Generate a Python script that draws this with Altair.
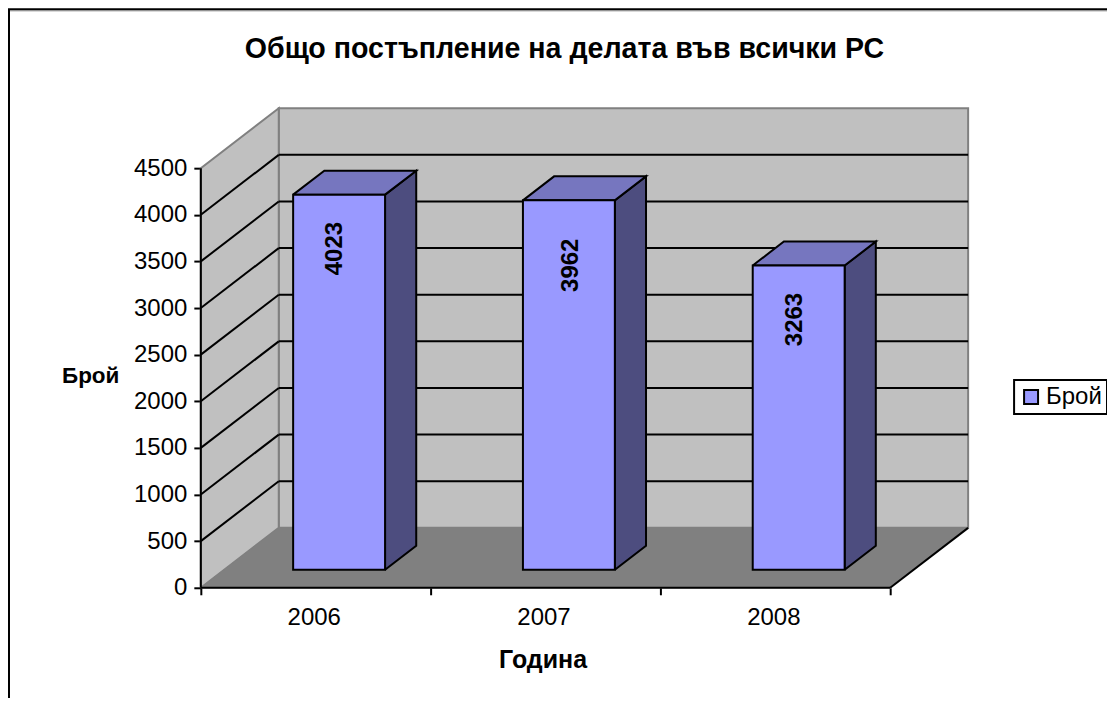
import altair as alt
import pandas as pd

years = ["2006", "2007", "2008"]
counts = [4023, 3962, 3263]
label_drops = [54, 65, 54]
label_shifts = [-4, 2, -4]
ticks = [0, 500, 1000, 1500, 2000, 2500, 3000, 3500, 4000, 4500]
series = "Брой"
title = "Общо постъпление на делата във всички РС"
x_title = "Година"
y_title = "Брой"

FONT = "Liberation Sans"
PX_X = 230.0
PX_Y = 420.0 / 4500.0
DEPTH_X = 78 / PX_X
DEPTH_Y = 60 / PX_Y
YMAX = 4500
NCAT = len(years)


def pt(c, v, z=0.0):
    return c + z * DEPTH_X, v + z * DEPTH_Y


def polygon(name, corners):
    rows = []
    for i, (c, v, z) in enumerate(corners + corners[:1]):
        x, y = pt(c, v, z)
        rows.append({"shape": name, "i": i, "x": x, "y": y})
    return pd.DataFrame(rows)


xs = alt.Scale(domain=[0, NCAT + DEPTH_X], range=[0, 768], nice=False, zero=False)
ys = alt.Scale(domain=[0, YMAX + DEPTH_Y], range=[480, 0], nice=False, zero=False)

year_expr = "{" + ",".join(f"'{i + 0.5}':'{y}'" for i, y in enumerate(years)) + "}[''+datum.value]||''"
x_axis = alt.Axis(
    values=[k / 2 for k in range(0, 2 * NCAT + 1)],
    labelExpr=year_expr, domain=False, grid=False, tickColor="#000000", tickWidth=2, tickSize=7,
    tickOpacity={"expr": "datum.value % 1 == 0 ? 1 : 0"},
    labelFont=FONT, labelFontSize=24, labelColor="#000000", labelPadding=11, labelOverlap=False,
    labelOffset=-2,
    labelFlush=False, titleFont=FONT, titleFontSize=25, titleFontWeight="bold", titleColor="#000000",
    titleX=342, titleY=60,
)
y_axis = alt.Axis(
    values=ticks, format="d", domain=False, grid=False, tickColor="#000000", tickWidth=2, tickSize=7,
    labelFont=FONT, labelFontSize=24, labelColor="#000000", labelPadding=7,
    titleFont=FONT, titleFontSize=22.5, titleFontWeight="bold", titleColor="#000000",
    titleAngle=0, titleX=-82, titleY=268, titleAlign="right", titleBaseline="middle",
)


def X(field="x:Q"):
    return alt.X(field, scale=xs, title=x_title, axis=x_axis)


def Y(field="y:Q"):
    return alt.Y(field, scale=ys, title=y_title, axis=y_axis)


def poly_layer(name, corners, fill, stroke, sw):
    return alt.Chart(polygon(name, corners)).mark_line(
        fill=fill, stroke=stroke, strokeWidth=sw, strokeJoin="miter", clip=False
    ).encode(x=X(), y=Y(), order="i:Q")


def seg_layer(segs, color, sw):
    rows = []
    for k, (a, b) in enumerate(segs):
        for i, p in enumerate((a, b)):
            x, y = pt(*p)
            rows.append({"k": k, "i": i, "x": x, "y": y})
    return alt.Chart(pd.DataFrame(rows)).mark_line(
        color=color, strokeWidth=sw
    ).encode(x=X(), y=Y(), detail="k:N", order="i:Q")


GREY = "#808080"
layers = [
    poly_layer("back", [(0, 0, 1), (NCAT, 0, 1), (NCAT, YMAX, 1), (0, YMAX, 1)], "#C0C0C0", GREY, 2),
    poly_layer("left", [(0, 0, 0), (0, 0, 1), (0, YMAX, 1), (0, YMAX, 0)], "#C0C0C0", GREY, 2),
    poly_layer("floor", [(0, 0, 0), (NCAT, 0, 0), (NCAT, 0, 1), (0, 0, 1)], GREY, GREY, 1),
]
inner = [t for t in ticks if 0 < t < YMAX]
layers.append(seg_layer(
    [((0, t, 0), (0, t, 1)) for t in inner] + [((0, t, 1), (NCAT, t, 1)) for t in inner],
    "#000000", 2))
layers.append(seg_layer(
    [((0, 0, 0), (NCAT, 0, 0)), ((NCAT, 0, 0), (NCAT, 0, 1)), ((0, 0, 0), (0, YMAX, 0))],
    "#000000", 2))

BAR_L, BAR_R, Z0, Z1 = 0.3, 0.7, 0.3, 0.7
rects = []
for i, v in enumerate(counts):
    l, r = i + BAR_L, i + BAR_R
    layers.append(poly_layer("side", [(r, 0, Z0), (r, 0, Z1), (r, v, Z1), (r, v, Z0)], "#4D4D7F", "#000000", 2))
    layers.append(poly_layer("top", [(l, v, Z0), (r, v, Z0), (r, v, Z1), (l, v, Z1)], "#7676BF", "#000000", 2))
    x0, y0 = pt(l, 0, Z0)
    x1, y1 = pt(r, v, Z0)
    rects.append({"x0": x0, "x1": x1, "y0": y0, "y1": y1, "series": series})

front = alt.Chart(pd.DataFrame(rects)).mark_rect(stroke="#000000", strokeWidth=2).encode(
    x=X("x0:Q"),
    x2="x1:Q",
    y=Y("y0:Q"),
    y2="y1:Q",
    color=alt.Color(
        "series:N",
        scale=alt.Scale(domain=[series], range=["#9999FF"]),
        legend=alt.Legend(
            title=None, orient="none", legendX=814, legendY=272,
            strokeColor="#000000", fillColor="#FFFFFF", padding=5,
            symbolType="square", symbolSize=196, symbolStrokeColor="#000000",
            symbolStrokeWidth=2, labelFont=FONT, labelFontSize=24,
            labelColor="#000000", labelOffset=3,
        ),
    ),
)
layers.append(front)

lab = []
for i, v in enumerate(counts):
    x, y = pt(i + 0.5, v, Z0)
    lab.append({"x": x + label_shifts[i] / PX_X, "y": y - label_drops[i] / PX_Y, "t": str(v)})
labels = alt.Chart(pd.DataFrame(lab)).mark_text(
    angle=270, font=FONT, fontSize=24, fontWeight="bold", color="#000000",
    align="center", baseline="middle",
).encode(x=X(), y=Y(), text="t:N")
layers.append(labels)

edge_top = alt.Chart(pd.DataFrame({"a": [0]})).mark_rule(color="#000000", strokeWidth=2, clip=False).encode(
    x=alt.value(-193), x2=alt.value(920), y=alt.value(-99))
edge_top2 = alt.Chart(pd.DataFrame({"a": [0]})).mark_rule(color="#808080", strokeWidth=1, clip=False).encode(
    x=alt.value(-191), x2=alt.value(920), y=alt.value(-97.5))
edge_left = alt.Chart(pd.DataFrame({"a": [0]})).mark_rule(color="#000000", strokeWidth=2, clip=False).encode(
    x=alt.value(-192), y=alt.value(-99), y2=alt.value(620))

chart = alt.layer(*layers, edge_top, edge_top2, edge_left).properties(
    width=768, height=480,
    title=alt.TitleParams(
        title, font=FONT, fontSize=28.6, fontWeight="bold", color="#000000",
        anchor="start", dx=44, offset=-55, frame="group",
    ),
    padding={"left": 193, "top": 100, "right": 139, "bottom": 110},
    autosize=alt.AutoSizeParams(type="none"),
).configure_view(stroke=None).configure_legend(strokeWidth=2)

chart.save("out.html", embed_options={"renderer": "svg", "actions": False})
